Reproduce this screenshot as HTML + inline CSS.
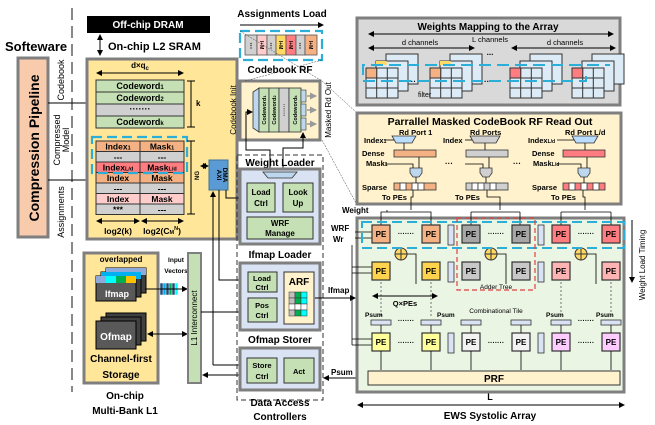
<!DOCTYPE html>
<html><head><meta charset="utf-8"><style>
html,body{margin:0;padding:0;background:#fff}
svg{display:block}
text{font-family:"Liberation Sans",sans-serif;font-weight:bold;fill:#000}
</style></head><body>
<svg width="655" height="425" viewBox="0 0 655 425" xmlns="http://www.w3.org/2000/svg">
<defs>
<marker id="a" markerWidth="6" markerHeight="6" refX="5" refY="3" orient="auto" markerUnits="userSpaceOnUse"><path d="M0,0L6,3L0,6z" fill="#000"/></marker>
<marker id="as" markerWidth="6" markerHeight="6" refX="1" refY="3" orient="auto" markerUnits="userSpaceOnUse"><path d="M6,0L0,3L6,6z" fill="#000"/></marker>
<marker id="g" markerWidth="7" markerHeight="7" refX="6" refY="3.5" orient="auto" markerUnits="userSpaceOnUse"><path d="M0,0L7,3.5L0,7z" fill="#999"/></marker>
<g id="st">
<rect x="20" y="-14" width="32" height="30"/><rect x="10" y="-7" width="32" height="30"/>
<rect x="0" y="0" width="32" height="30"/>
<path d="M10.7,0V30M21.3,0V30M0,10H32M0,20H32" fill="none"/>
</g>
</defs>

<!-- software side -->
<text x="5" y="51" font-size="13">Softeware</text>
<line x1="72" y1="8" x2="72" y2="392" stroke="#888" stroke-width="2" stroke-dasharray="12,6"/>
<rect x="18" y="58" width="30" height="179" fill="#f8cbad" stroke="#7f7f7f" stroke-width="3"/>
<text transform="translate(39,148) rotate(-90)" font-size="14" text-anchor="middle">Compression  Pipeline</text>
<text transform="translate(64,80) rotate(-90)" font-size="9" text-anchor="middle" style="font-weight:normal">Codebook</text>
<text transform="translate(60,140) rotate(-90)" font-size="9" text-anchor="middle" style="font-weight:normal">Compressed</text>
<text transform="translate(69,140) rotate(-90)" font-size="9" text-anchor="middle" style="font-weight:normal">Model</text>
<text transform="translate(64,212) rotate(-90)" font-size="9" text-anchor="middle" style="font-weight:normal">Assignments</text>
<line x1="48" y1="103" x2="95" y2="103" stroke="#000" marker-end="url(#a)"/>
<line x1="48" y1="180" x2="95" y2="180" stroke="#000" marker-end="url(#a)"/>

<!-- DRAM / L2 -->
<rect x="87" y="16" width="123" height="17" fill="#000"/>
<text x="148" y="28" font-size="10" text-anchor="middle" style="fill:#fff">Off-chip DRAM</text>
<line x1="100" y1="35" x2="100" y2="55" stroke="#000" marker-end="url(#a)" marker-start="url(#as)"/>
<text x="108" y="50" font-size="11">On-chip L2 SRAM</text>
<rect x="87" y="59" width="150" height="180" fill="#ffe699" stroke="#7f7f7f" stroke-width="3"/>
<text x="140" y="68" font-size="8" text-anchor="middle">d×q<tspan font-size="6" dy="2">c</tspan></text>
<line x1="97" y1="73" x2="183" y2="73" stroke="#000" marker-end="url(#a)" marker-start="url(#as)"/>
<g stroke="#333" stroke-width="1">
<rect x="96" y="80" width="88" height="12" fill="#c5e0b4"/>
<rect x="96" y="92" width="88" height="12" fill="#c5e0b4"/>
<rect x="96" y="104" width="88" height="12" fill="#d0d0d0"/>
<rect x="96" y="116" width="88" height="12" fill="#c5e0b4"/>
</g>
<g font-size="9" text-anchor="middle" style="font-weight:normal">
<text x="140" y="89">Codeword<tspan font-size="6">1</tspan></text>
<text x="140" y="101">Codeword<tspan font-size="6">2</tspan></text>
<text x="140" y="112">·······</text>
<text x="140" y="125">Codeword<tspan font-size="6">k</tspan></text>
</g>
<line x1="191" y1="81" x2="191" y2="127" stroke="#000"/>
<line x1="187" y1="81" x2="195" y2="81" stroke="#000"/><line x1="187" y1="127" x2="195" y2="127" stroke="#000"/>
<text x="196" y="106" font-size="8">k</text>

<g stroke="#333" stroke-width="1">
<rect x="96" y="141" width="44" height="10.5" fill="#f4b183"/><rect x="140" y="141" width="44" height="10.5" fill="#f4b183"/>
<rect x="96" y="151.5" width="44" height="10.5" fill="#d0d0d0"/><rect x="140" y="151.5" width="44" height="10.5" fill="#d0d0d0"/>
<rect x="96" y="162" width="44" height="10.5" fill="#ff7c80"/><rect x="140" y="162" width="44" height="10.5" fill="#ff7c80"/>
<rect x="96" y="172.5" width="44" height="10.5" fill="#f4b183"/><rect x="140" y="172.5" width="44" height="10.5" fill="#f4b183"/>
<rect x="96" y="183" width="44" height="10.5" fill="#d0d0d0"/><rect x="140" y="183" width="44" height="10.5" fill="#d0d0d0"/>
<rect x="96" y="193.5" width="44" height="10.5" fill="#ffcccc"/><rect x="140" y="193.5" width="44" height="10.5" fill="#ffcccc"/>
<rect x="96" y="204" width="44" height="10.5" fill="#d0d0d0"/><rect x="140" y="204" width="44" height="10.5" fill="#d0d0d0"/>
</g>
<g font-size="8.5" text-anchor="middle" style="font-weight:normal">
<text x="118" y="149.5">Index<tspan font-size="5.5">1</tspan></text><text x="162" y="149.5">Mask<tspan font-size="5.5">1</tspan></text>
<text x="118" y="160">---</text><text x="162" y="160">---</text>
<text x="118" y="170.5">Index<tspan font-size="5.5">L/d</tspan></text><text x="162" y="170.5">Mask<tspan font-size="5.5">L/d</tspan></text>
<text x="118" y="181">Index</text><text x="162" y="181">Mask</text>
<text x="118" y="191.5">---</text><text x="162" y="191.5">---</text>
<text x="118" y="202">Index</text><text x="162" y="202">Mask</text>
<text x="118" y="212.5">***</text><text x="162" y="212.5">---</text>
</g>
<rect x="92" y="137" width="95" height="36" fill="none" stroke="#2bafd9" stroke-width="2.2" stroke-dasharray="10,5"/>
<line x1="191" y1="141" x2="191" y2="214" stroke="#000"/>
<line x1="187" y1="141" x2="195" y2="141" stroke="#000"/><line x1="187" y1="214" x2="195" y2="214" stroke="#000"/>
<text transform="translate(199,180) rotate(-90)" font-size="6">NG</text>
<line x1="97" y1="221" x2="139" y2="221" stroke="#000" marker-end="url(#a)" marker-start="url(#as)"/>
<line x1="142" y1="221" x2="183" y2="221" stroke="#000" marker-end="url(#a)" marker-start="url(#as)"/>
<text x="118" y="234" font-size="8.5" text-anchor="middle">log2(k)</text>
<text x="162" y="234" font-size="8.5" text-anchor="middle">log2(C<tspan font-size="5.5">M</tspan><tspan font-size="5.5" dy="-4">N</tspan><tspan dy="4">)</tspan></text>

<!-- AXI DMA -->
<line x1="201" y1="166" x2="208" y2="166" stroke="#000" marker-end="url(#a)" marker-start="url(#as)"/>
<rect x="209" y="160" width="19" height="30" fill="#5b9bd5" stroke="#41719c"/>
<text transform="translate(217,175) rotate(90)" font-size="6.5" text-anchor="middle">AXI</text>
<text transform="translate(223,175) rotate(90)" font-size="6.5" text-anchor="middle">DMA</text>
<polyline points="226,190 226,198 245,198" fill="none" stroke="#000" marker-end="url(#a)"/>
<line x1="213" y1="192" x2="213" y2="365" stroke="#000" marker-start="url(#as)"/>
<polyline points="219,190 219,280 246,280" fill="none" stroke="#000" marker-end="url(#a)"/>
<polyline points="213,365 246,365" fill="none" stroke="#000" marker-end="url(#a)"/>

<!-- L1 -->
<rect x="84" y="253" width="74" height="130" fill="#ffe699" stroke="#7f7f7f" stroke-width="3"/>
<text x="121" y="262" font-size="8" text-anchor="middle">overlapped</text>
<rect x="106" y="268" width="40" height="25" fill="#404040" stroke="#000"/>
<rect x="101" y="272" width="40" height="25" fill="#404040" stroke="#000"/>
<rect x="96" y="276" width="40" height="25" fill="#595959" stroke="#000"/>
<rect x="106" y="268" width="40" height="7" fill="#8ea9db"/>
<rect x="101" y="272" width="40" height="7" fill="#00b0f0"/>
<rect x="96" y="276" width="10" height="7" fill="#8ea9db"/><rect x="106" y="276" width="10" height="7" fill="#00ffff"/><rect x="116" y="276" width="10" height="7" fill="#00b050"/><rect x="126" y="276" width="10" height="7" fill="#ffc000"/>
<text x="117" y="297" font-size="9" text-anchor="middle" style="fill:#fff">Ifmap</text>
<rect x="106" y="313" width="40" height="28" fill="#404040" stroke="#000"/>
<rect x="101" y="317" width="40" height="28" fill="#404040" stroke="#000"/>
<rect x="96" y="321" width="40" height="28" fill="#595959" stroke="#000"/>
<text x="116" y="340" font-size="10" text-anchor="middle" style="fill:#fff">Ofmap</text>
<text x="121" y="362" font-size="10" text-anchor="middle">Channel-first</text>
<text x="121" y="378" font-size="10" text-anchor="middle">Storage</text>
<text x="125" y="399" font-size="10" text-anchor="middle">On-chip</text>
<text x="125" y="414" font-size="10" text-anchor="middle">Multi-Bank L1</text>
<text x="176" y="262" font-size="6.5" text-anchor="middle">Input</text>
<text x="176" y="273" font-size="6.5" text-anchor="middle">Vectors</text>
<g stroke="#fff" stroke-width="0.5">
<rect x="160" y="283" width="18" height="12" fill="#1f4e79"/>
<rect x="163" y="283" width="3" height="12" fill="#00b0f0"/><rect x="169" y="283" width="3" height="12" fill="#00b050"/><rect x="175" y="283" width="3" height="12" fill="#00ffff"/>
</g>
<line x1="145" y1="289" x2="187" y2="289" stroke="#000" marker-end="url(#a)"/>
<line x1="148" y1="334" x2="187" y2="334" stroke="#000" marker-end="url(#a)" marker-start="url(#as)"/>
<rect x="188" y="253" width="13" height="130" fill="#c5e0b4" stroke="#7f7f7f" stroke-width="2"/>
<text transform="translate(197,318) rotate(-90)" font-size="8" text-anchor="middle" style="font-weight:normal">L1 Interconnect</text>
<polyline points="201,312 246,312" fill="none" stroke="#000" marker-end="url(#a)"/>
<line x1="203" y1="375" x2="246" y2="375" stroke="#000" marker-end="url(#a)" marker-start="url(#as)"/>

<!-- Assignments load -->
<text x="282" y="17" font-size="10" text-anchor="middle">Assignments Load</text>
<line x1="240" y1="25" x2="323" y2="25" stroke="#000" marker-end="url(#a)"/>
<rect x="240" y="31" width="82" height="29" fill="none" stroke="#2bafd9" stroke-width="2.2" stroke-dasharray="10,5"/>
<g stroke="#555" stroke-width="0.8">
<rect x="245" y="35" width="12" height="20" fill="#d0d0d0"/>
<rect x="257" y="35" width="10" height="20" fill="#ffcccc"/>
<rect x="267" y="35" width="9" height="20" fill="#d0d0d0"/>
<rect x="276" y="35" width="10" height="20" fill="#ffd966"/>
<rect x="286" y="35" width="10" height="20" fill="#ff7c80"/>
<rect x="296" y="35" width="9" height="20" fill="#d0d0d0"/>
<rect x="305" y="35" width="12" height="20" fill="#f4b183"/>
</g>
<text x="251" y="48" font-size="7" text-anchor="middle">⋮</text><text x="271" y="48" font-size="7" text-anchor="middle">⋮</text><text x="300" y="48" font-size="7" text-anchor="middle">⋮</text>
<g font-size="5" text-anchor="middle" style="font-weight:normal">
<text transform="translate(260,45) rotate(90)">I+M</text><text transform="translate(279,45) rotate(90)">I+M</text><text transform="translate(289,45) rotate(90)">I+M</text><text transform="translate(309,45) rotate(90)">I+M</text>
</g>
<text x="280" y="73" font-size="10" text-anchor="middle">Codebook RF</text>
<rect x="240" y="81" width="80" height="59" fill="#fff2cc" stroke="#7f7f7f" stroke-width="3"/>
<text transform="translate(236,110) rotate(-90)" font-size="8" text-anchor="middle" style="font-weight:normal">Codebook Init</text>
<text transform="translate(331,110) rotate(-90)" font-size="8" text-anchor="middle" style="font-weight:normal">Masked Rd Out</text>
<polygon points="253,92 259,88 259,132 253,128" fill="#bdd7ee" stroke="#333" stroke-width="0.8"/>
<rect x="259" y="88" width="10" height="44" fill="#c5e0b4" stroke="#333" stroke-width="0.8"/>
<rect x="269" y="88" width="10" height="44" fill="#c5e0b4" stroke="#333" stroke-width="0.8"/>
<rect x="279" y="88" width="10" height="44" fill="#d0d0d0" stroke="#333" stroke-width="0.8"/>
<rect x="289" y="88" width="12" height="44" fill="#c5e0b4" stroke="#333" stroke-width="0.8"/>
<rect x="301" y="90" width="5" height="12" fill="#bdd7ee" stroke="#333" stroke-width="0.6"/>
<rect x="301" y="104" width="5" height="12" fill="#bdd7ee" stroke="#333" stroke-width="0.6"/>
<rect x="301" y="118" width="5" height="12" fill="#bdd7ee" stroke="#333" stroke-width="0.6"/>
<g font-size="5.5" style="font-weight:normal" text-anchor="middle">
<text transform="translate(266,110) rotate(-90)">Codeword<tspan font-size="4">1</tspan></text>
<text transform="translate(276,110) rotate(-90)">Codeword<tspan font-size="4">2</tspan></text>
<text transform="translate(286,110) rotate(-90)">·······</text>
<text transform="translate(297,110) rotate(-90)">Codeword<tspan font-size="4">k</tspan></text>
</g>
<line x1="307" y1="96" x2="316" y2="96" stroke="#999" stroke-width="1.5" marker-end="url(#g)"/>
<line x1="307" y1="110" x2="316" y2="110" stroke="#999" stroke-width="1.5" marker-end="url(#g)"/>
<line x1="307" y1="124" x2="316" y2="124" stroke="#999" stroke-width="1.5" marker-end="url(#g)"/>
<polyline points="270,170 270,150 246,150 246,112 252,112" fill="none" stroke="#000" marker-end="url(#a)"/>
<polyline points="283,170 283,148 303,148 303,133" fill="none" stroke="#000" marker-end="url(#a)"/>
<line x1="240" y1="31" x2="322" y2="81" stroke="#444" stroke-width="0.5" stroke-dasharray="2,1"/>
<line x1="322" y1="60" x2="245" y2="81" stroke="#444" stroke-width="0.5" stroke-dasharray="2,1"/>
<line x1="322" y1="81" x2="357" y2="113" stroke="#444" stroke-width="0.5" stroke-dasharray="2,1"/>
<line x1="322" y1="140" x2="357" y2="205" stroke="#444" stroke-width="0.5" stroke-dasharray="2,1"/>

<!-- Data access controllers -->
<rect x="237" y="155" width="86" height="245" fill="none" stroke="#333" stroke-width="1" stroke-dasharray="5,3"/>
<text x="280" y="166" font-size="10" text-anchor="middle">Weight Loader</text>
<rect x="240" y="169" width="80" height="75" fill="#dae3f3" stroke="#7f7f7f" stroke-width="3"/>
<polygon points="263,172 297,172 292,178 268,178" fill="#bdd7ee" stroke="#333" stroke-width="0.8"/>
<rect x="247" y="183" width="28" height="29" fill="#c5e0b4" stroke="#333"/>
<rect x="283" y="183" width="30" height="29" fill="#c5e0b4" stroke="#333"/>
<rect x="247" y="217" width="66" height="22" fill="#c5e0b4" stroke="#333"/>
<g font-size="8" text-anchor="middle" style="font-weight:normal">
<text x="261" y="195">Load</text><text x="261" y="206">Ctrl</text>
<text x="298" y="195">Look</text><text x="298" y="206">Up</text>
<text x="280" y="226">WRF</text><text x="280" y="236">Manage</text>
</g>
<text x="280" y="258" font-size="10" text-anchor="middle">Ifmap Loader</text>
<rect x="240" y="263" width="80" height="67" fill="#dae3f3" stroke="#7f7f7f" stroke-width="3"/>
<rect x="248" y="272" width="29" height="20" fill="#c5e0b4" stroke="#333"/>
<rect x="248" y="298" width="29" height="24" fill="#c5e0b4" stroke="#333"/>
<rect x="284" y="272" width="30" height="52" fill="#fff2cc" stroke="#333"/>
<g font-size="7.5" text-anchor="middle" style="font-weight:normal">
<text x="262" y="281">Load</text><text x="262" y="290">Ctrl</text>
<text x="262" y="308">Pos</text><text x="262" y="318">Ctrl</text>
</g>
<text x="299" y="285" font-size="10" text-anchor="middle">ARF</text>
<g stroke="#333" stroke-width="0.5">
<rect x="289" y="292" width="6" height="6" fill="#bfbfbf"/><rect x="295" y="292" width="6" height="6" fill="#00b050"/><rect x="301" y="292" width="6" height="6" fill="#00ffff"/>
<rect x="289" y="298" width="6" height="6" fill="#bfbfbf"/><rect x="295" y="298" width="6" height="6" fill="#00b050"/><rect x="301" y="298" width="6" height="6" fill="#00ffff"/>
<rect x="289" y="304" width="6" height="6" fill="#fff"/><rect x="295" y="304" width="6" height="6" fill="#fff"/><rect x="301" y="304" width="6" height="6" fill="#fff"/>
<rect x="289" y="310" width="6" height="6" fill="#bfbfbf"/><rect x="295" y="310" width="6" height="6" fill="#00b050"/><rect x="301" y="310" width="6" height="6" fill="#00ffff"/>
</g>
<text x="280" y="343" font-size="10" text-anchor="middle">Ofmap Storer</text>
<rect x="240" y="348" width="80" height="42" fill="#dae3f3" stroke="#7f7f7f" stroke-width="3"/>
<rect x="247" y="358" width="30" height="25" fill="#c5e0b4" stroke="#333"/>
<rect x="284" y="358" width="30" height="25" fill="#c5e0b4" stroke="#333"/>
<g font-size="7.5" text-anchor="middle" style="font-weight:normal">
<text x="262" y="368">Store</text><text x="262" y="379">Ctrl</text><text x="299" y="374">Act</text>
</g>
<text x="280" y="406" font-size="10" text-anchor="middle">Data Access</text>
<text x="280" y="420" font-size="10" text-anchor="middle">Controllers</text>
<line x1="315" y1="298" x2="355" y2="298" stroke="#000" marker-end="url(#a)"/>
<text x="328" y="293" font-size="8">Ifmap</text>
<line x1="358" y1="378" x2="324" y2="378" stroke="#000" marker-end="url(#a)"/>
<text x="331" y="375" font-size="8">Psum</text>
<text x="331" y="231" font-size="8">WRF</text><text x="333" y="242" font-size="8">Wr</text>

<!-- Weights mapping -->
<rect x="357" y="18" width="263" height="87" fill="#d9d9d9" stroke="#7f7f7f" stroke-width="3"/>
<text x="488" y="30" font-size="10" text-anchor="middle">Weights Mapping to the Array</text>
<line x1="369" y1="34" x2="613" y2="34" stroke="#000" marker-end="url(#a)" marker-start="url(#as)"/>
<line x1="369" y1="48" x2="474" y2="48" stroke="#000" marker-end="url(#a)" marker-start="url(#as)"/>
<line x1="512" y1="48" x2="615" y2="48" stroke="#000" marker-end="url(#a)" marker-start="url(#as)"/>
<text x="420" y="45" font-size="7.5" text-anchor="middle" style="font-weight:normal">d channels</text>
<text x="490" y="42" font-size="7.5" text-anchor="middle" style="font-weight:normal">L channels</text>
<text x="490" y="55" font-size="8" text-anchor="middle">...</text>
<text x="565" y="45" font-size="7.5" text-anchor="middle" style="font-weight:normal">d channels</text>
<g stroke="#333" stroke-width="1" fill="#ddebf7">
<use href="#st" x="366" y="68"/><use href="#st" x="430" y="68"/><use href="#st" x="510" y="68"/><use href="#st" x="572" y="68"/>
</g>
<rect x="366" y="68" width="10.7" height="10" fill="#f4b183" stroke="#333"/>
<rect x="430" y="68" width="10.7" height="10" fill="#f4b183" stroke="#333"/>
<rect x="510" y="68" width="10.7" height="10" fill="#ff7c80" stroke="#333"/>
<rect x="572" y="68" width="10.7" height="10" fill="#ff7c80" stroke="#333"/>
<rect x="376" y="61" width="10.7" height="4" fill="#ffd966"/><rect x="440" y="61" width="10.7" height="4" fill="#ffd966"/>
<text x="418" y="97" font-size="7" style="font-weight:normal">filter</text>
<text x="408" y="84" font-size="8">···</text><text x="484" y="84" font-size="8">······</text><text x="547" y="84" font-size="8">···</text>
<polyline points="363,75 363,65 610,65" fill="none" stroke="#2bafd9" stroke-width="2" stroke-dasharray="12,6"/>
<polyline points="363,81 582,81 586,81 586,72" fill="none" stroke="#2bafd9" stroke-width="2" stroke-dasharray="12,6"/>

<!-- Parallel masked -->
<rect x="357" y="113" width="264" height="91" fill="#fff2cc" stroke="#7f7f7f" stroke-width="3"/>
<text x="490" y="125" font-size="10.5" text-anchor="middle">Parrallel Masked CodeBook RF Read Out</text>
<g font-size="7.5">
<text x="399" y="135">Rd Port 1</text><text x="470" y="135">Rd Ports</text><text x="565" y="135">Rd Port L/d</text>
<text x="364" y="143">Index<tspan font-size="5">1</tspan></text><text x="443" y="143">Index</text><text x="528" y="143">Index<tspan font-size="5">L/d</tspan></text>
<text x="362" y="156">Dense</text><text x="532" y="156">Dense</text>
<text x="366" y="166">Mask<tspan font-size="5">1</tspan></text><text x="533" y="166">Mask<tspan font-size="5">L/d</tspan></text>
<text x="362" y="190">Sparse</text><text x="532" y="190">Sparse</text>
<text x="382" y="200">To PEs</text><text x="455" y="200">To PEs</text><text x="551" y="200">To PEs</text>
</g>
<text x="445" y="166" font-size="8">···</text><text x="513" y="166" font-size="8">···</text>
<g stroke="#333" stroke-width="0.8">
<polygon points="392,136 416,136 412,143 396,143" fill="#bdf"/>
<polygon points="470,136 500,136 496,143 474,143" fill="#d0d0d0"/>
<polygon points="572,136 598,136 594,143 576,143" fill="#bdf"/>
<rect x="394" y="150" width="42" height="7" fill="#f4b183"/>
<rect x="466" y="150" width="42" height="7" fill="#d0d0d0"/>
<rect x="563" y="150" width="42" height="7" fill="#ff7c80"/>
<path d="M410,168h12v5l-3,4h-6l-3,-4z" fill="#bdd7ee"/>
<path d="M480,168h12v5l-3,4h-6l-3,-4z" fill="#d0d0d0"/>
<path d="M578,168h12v5l-3,4h-6l-3,-4z" fill="#bdd7ee"/>
<rect x="394" y="183" width="42" height="7" fill="#f4b183"/>
<rect x="400" y="183" width="6" height="7" fill="#fff"/><rect x="412" y="183" width="6" height="7" fill="#fff"/><rect x="418" y="183" width="6" height="7" fill="#fff"/>
<rect x="466" y="183" width="42" height="7" fill="#d0d0d0"/>
<rect x="472" y="183" width="6" height="7" fill="#fff"/><rect x="478" y="183" width="6" height="7" fill="#fff"/><rect x="490" y="183" width="6" height="7" fill="#fff"/>
<rect x="563" y="183" width="42" height="7" fill="#ff7c80"/>
<rect x="569" y="183" width="6" height="7" fill="#fff"/><rect x="581" y="183" width="6" height="7" fill="#fff"/><rect x="593" y="183" width="6" height="7" fill="#fff"/>
</g>
<g stroke="#000" stroke-width="0.8" fill="none">
<line x1="384" y1="140" x2="394" y2="140"/><line x1="465" y1="140" x2="472" y2="140"/><line x1="557" y1="140" x2="574" y2="140"/>
<line x1="404" y1="143" x2="404" y2="150"/><line x1="485" y1="143" x2="485" y2="150"/><line x1="585" y1="143" x2="585" y2="150"/>
<polyline points="385,164 413,164 413,168"/><line x1="419" y1="157" x2="419" y2="168"/>
<polyline points="465,164 483,164 483,168"/><line x1="489" y1="157" x2="489" y2="168"/>
<polyline points="557,164 581,164 581,168"/><line x1="587" y1="157" x2="587" y2="168"/>
<line x1="416" y1="177" x2="416" y2="183"/><line x1="486" y1="177" x2="486" y2="183"/><line x1="584" y1="177" x2="584" y2="183"/>
<polyline points="413,190 413,197 411,197 411,210"/><polyline points="487,190 487,197 500,197 500,210"/><polyline points="583,190 583,197 585,197 585,210"/>
</g>
<text x="342" y="213" font-size="8">Weight</text>

<!-- Systolic array -->
<rect x="357" y="218" width="267" height="174" fill="#ebf5e4" stroke="#7f7f7f" stroke-width="3"/>
<g stroke="#000" stroke-width="0.8" fill="none">
<polyline points="387,210 387,212 381,212 381,225"/><polyline points="411,212 431,212 431,225"/><line x1="387" y1="212" x2="411" y2="212"/>
<polyline points="471,212 520,212"/><line x1="471" y1="212" x2="471" y2="225"/><line x1="520" y1="212" x2="520" y2="225"/>
<polyline points="561,212 611,212"/><line x1="561" y1="212" x2="561" y2="225"/><line x1="611" y1="212" x2="611" y2="225"/>
<line x1="355" y1="232" x2="372" y2="232"/><line x1="355" y1="238" x2="372" y2="238"/>
<line x1="352" y1="245" x2="352" y2="345"/>
<line x1="352" y1="267" x2="372" y2="267"/><line x1="352" y1="273" x2="372" y2="273"/>
<line x1="352" y1="339" x2="372" y2="339"/><line x1="352" y1="345" x2="372" y2="345"/>
</g>
<!-- PE rows -->
<g stroke="#333" stroke-width="1.2">
<rect x="372" y="225" width="18" height="18" fill="#f4b183"/><rect x="422" y="225" width="18" height="18" fill="#f4b183"/>
<rect x="462" y="225" width="18" height="18" fill="#a6a6a6"/><rect x="512" y="225" width="18" height="18" fill="#a6a6a6"/>
<rect x="552" y="225" width="18" height="18" fill="#ff7c80"/><rect x="602" y="225" width="18" height="18" fill="#ff7c80"/>
<rect x="372" y="262" width="18" height="18" fill="#ffd34d"/><rect x="422" y="262" width="18" height="18" fill="#ffd34d"/>
<rect x="462" y="262" width="18" height="18" fill="#c8c8c8"/><rect x="512" y="262" width="18" height="18" fill="#c8c8c8"/>
<rect x="552" y="262" width="18" height="18" fill="#ffb3b3"/><rect x="602" y="262" width="18" height="18" fill="#ffb3b3"/>
<rect x="372" y="333" width="18" height="18" fill="#ffff99"/><rect x="422" y="333" width="18" height="18" fill="#ffff99"/>
<rect x="462" y="333" width="18" height="18" fill="#f2f2f2"/><rect x="512" y="333" width="18" height="18" fill="#f2f2f2"/>
<rect x="552" y="333" width="18" height="18" fill="#ffccff"/><rect x="602" y="333" width="18" height="18" fill="#ffccff"/>
</g>
<g font-size="8" text-anchor="middle" style="font-weight:normal">
<text x="381" y="237">PE</text><text x="431" y="237">PE</text><text x="471" y="237">PE</text><text x="521" y="237">PE</text><text x="561" y="237">PE</text><text x="611" y="237">PE</text>
<text x="381" y="274">PE</text><text x="431" y="274">PE</text><text x="471" y="274">PE</text><text x="521" y="274">PE</text><text x="561" y="274">PE</text><text x="611" y="274">PE</text>
<text x="381" y="345">PE</text><text x="431" y="345">PE</text><text x="471" y="345">PE</text><text x="521" y="345">PE</text><text x="561" y="345">PE</text><text x="611" y="345">PE</text>
</g>
<g font-size="7" text-anchor="middle"><text x="406" y="236">·······</text><text x="496" y="236">·······</text><text x="586" y="236">·······</text>
<text x="406" y="345">·······</text><text x="496" y="345">·······</text><text x="586" y="345">·······</text>
<text x="406" y="323">·······</text><text x="586" y="323">·······</text></g>
<g fill="#dae3f3" stroke="#333" stroke-width="0.8">
<rect x="448" y="225" width="6" height="20"/><rect x="538" y="225" width="6" height="20"/>
<rect x="448" y="262" width="6" height="20"/><rect x="538" y="262" width="6" height="20"/>
<rect x="448" y="333" width="6" height="20"/><rect x="538" y="333" width="6" height="20"/>
<rect x="371" y="320" width="20" height="5"/><rect x="421" y="320" width="20" height="5"/><rect x="461" y="320" width="20" height="5"/><rect x="511" y="320" width="20" height="5"/><rect x="551" y="320" width="20" height="5"/><rect x="601" y="320" width="20" height="5"/>
</g>
<g fill="#ffd966" stroke="#333" stroke-width="1">
<circle cx="401" cy="254" r="6"/><circle cx="491" cy="254" r="6"/><circle cx="581" cy="254" r="6"/>
</g>
<g stroke="#333" stroke-width="1"><path d="M395,254h12M401,248v12M485,254h12M491,248v12M575,254h12M581,248v12"/></g>
<g stroke="#000" stroke-width="0.8" fill="none">
<polyline points="407,254 416,254 416,284"/><polyline points="497,254 506,254 506,284"/><polyline points="587,254 596,254 596,284"/>
<line x1="381" y1="351" x2="381" y2="370"/><line x1="431" y1="351" x2="431" y2="370"/><line x1="471" y1="351" x2="471" y2="370"/><line x1="521" y1="351" x2="521" y2="370"/><line x1="561" y1="351" x2="561" y2="370"/><line x1="611" y1="351" x2="611" y2="370"/>
<line x1="381" y1="325" x2="381" y2="333"/><line x1="431" y1="325" x2="431" y2="333"/><line x1="471" y1="325" x2="471" y2="333"/><line x1="521" y1="325" x2="521" y2="333"/><line x1="561" y1="325" x2="561" y2="333"/><line x1="611" y1="325" x2="611" y2="333"/>
</g>
<g stroke="#555" stroke-width="0.8" stroke-dasharray="2,2"><line x1="381" y1="282" x2="381" y2="318"/><line x1="431" y1="282" x2="431" y2="318"/><line x1="561" y1="282" x2="561" y2="318"/><line x1="611" y1="282" x2="611" y2="318"/></g>
<rect x="362" y="222" width="262" height="26" fill="none" stroke="#2bafd9" stroke-width="2" stroke-dasharray="10,5"/>
<rect x="457" y="218" width="78" height="72" fill="none" stroke="#e04040" stroke-width="1.2" stroke-dasharray="5,3"/>
<text x="496" y="289" font-size="6.5" text-anchor="middle" style="font-weight:normal">Adder Tree</text>
<text x="496" y="313" font-size="6.5" text-anchor="middle" style="font-weight:normal">Combinational Tile</text>
<line x1="373" y1="296" x2="437" y2="296" stroke="#000" marker-end="url(#a)" marker-start="url(#as)"/>
<text x="405" y="306" font-size="7.5" text-anchor="middle">Q×PEs</text>
<g font-size="6.5" style="font-weight:normal"><text x="365" y="317">Psum</text><text x="437" y="317">Psum</text><text x="546" y="317">Psum</text><text x="596" y="317">Psum</text></g>
<rect x="368" y="371" width="252" height="14" fill="#fff2cc" stroke="#333"/>
<text x="494" y="382" font-size="10" text-anchor="middle">PRF</text>
<text x="490" y="400" font-size="9" text-anchor="middle">L</text>
<line x1="358" y1="405" x2="624" y2="405" stroke="#000" marker-end="url(#a)" marker-start="url(#as)"/>
<text x="490" y="419" font-size="10" text-anchor="middle">EWS Systolic Array</text>
<line x1="632" y1="220" x2="632" y2="282" stroke="#000" marker-end="url(#a)"/>
<text transform="translate(645,265) rotate(-90)" font-size="8" text-anchor="middle" style="font-weight:normal">Weight Load Timing</text>
</svg>
</body></html>
